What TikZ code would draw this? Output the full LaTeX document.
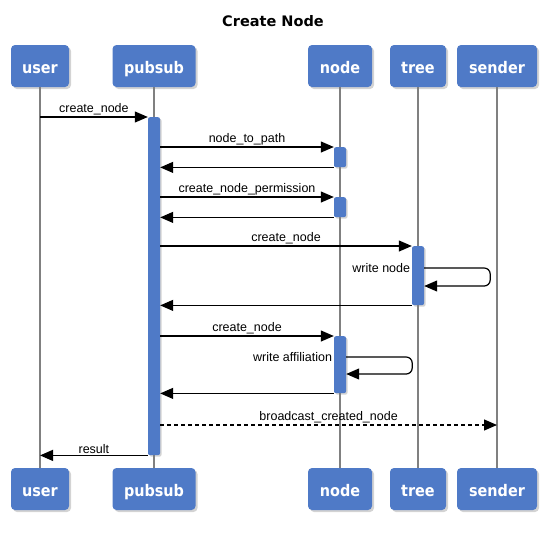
\documentclass[tikz,border=0pt]{standalone}
\usepackage{fontspec}
\setmainfont{DejaVu Sans}
\newfontfamily\lblfont{Liberation Sans}
\newfontfamily\actfont{DejaVu Sans Condensed}
\usetikzlibrary{arrows.meta,shadows}
\definecolor{boxblue}{HTML}{4F7AC7}

\begin{document}
\begin{tikzpicture}[x=1pt, y=-1pt,
  actor/.style={fill=boxblue, rounded corners=4pt, minimum height=42pt, inner sep=0pt,
    text height=14pt, text depth=0pt,
    text=white, font=\actfont\fontsize{16}{18}\selectfont\bfseries,
    drop shadow={shadow xshift=2pt, shadow yshift=-2pt, opacity=0.35}},
  act/.style={fill=boxblue, rounded corners=2pt, minimum width=12pt, inner sep=0pt, anchor=north,
    drop shadow={shadow xshift=1.5pt, shadow yshift=-1.5pt, opacity=0.35}},
  life/.style={draw=gray, line width=1.1pt},
  msg/.style={-{Triangle[length=13pt, width=11pt]}, line width=1.2pt},
  lbl/.style={font=\lblfont\fontsize{12.5}{14}\selectfont, inner sep=1.5pt}]
\useasboundingbox (0,0) rectangle (547,533);

% Title
\node[font=\fontsize{14.5}{17}\selectfont\bfseries] (title) at (273,21) {Create Node};

% Actors, top and bottom
\node[actor, minimum width=58pt] (usert) at (40,66) {user};
\node[actor, minimum width=83pt] (pubsubt) at (154,66) {pubsub};
\node[actor, minimum width=64pt] (nodet) at (340,66) {node};
\node[actor, minimum width=56pt] (treet) at (418,66) {tree};
\node[actor, minimum width=80pt] (sendert) at (497,66) {sender};
\node[actor, minimum width=58pt] (userb) at (40,489) {user};
\node[actor, minimum width=83pt] (pubsubb) at (154,489) {pubsub};
\node[actor, minimum width=64pt] (nodeb) at (340,489) {node};
\node[actor, minimum width=56pt] (treeb) at (418,489) {tree};
\node[actor, minimum width=80pt] (senderb) at (497,489) {sender};

% Lifelines
\draw[life] (usert.south) -- (userb.north);
\draw[life] (pubsubt.south) -- (pubsubb.north);
\draw[life] (nodet.south) -- (nodeb.north);
\draw[life] (treet.south) -- (treeb.north);
\draw[life] (sendert.south) -- (senderb.north);

% Activations
\node[act, minimum height=338pt] (pa) at (154,117) {};
\node[act, minimum height=20pt] (na1) at (340,147) {};
\node[act, minimum height=20pt] (na2) at (340,197) {};
\node[act, minimum height=59pt] (ta) at (418,246) {};
\node[act, minimum height=57pt] (na3) at (340,336) {};

% Calls
\draw[msg] (usert |- pa.north) -- node[lbl, above] {create\_node} (pa.north west);
\draw[msg] (pa.east |- na1.north) -- node[lbl, above] {node\_to\_path} (na1.north west);
\draw[msg] (na1.south west) -- (pa.east |- na1.south);
\draw[msg] (pa.east |- na2.north) -- node[lbl, above] {create\_node\_permission} (na2.north west);
\draw[msg] (na2.south west) -- (pa.east |- na2.south);
\draw[msg] (pa.east |- ta.north) -- node[lbl, above] {create\_node} (ta.north west);
\draw[msg, rounded corners=6pt] (ta.east |- 0,268) -- ++(66,0) -- ++(0,18) -- (ta.east |- 0,286);
\node[lbl, anchor=east] (wnode) at (ta.west |- 0,268) {write node};
\draw[msg] (ta.south west) -- (pa.east |- ta.south);
\draw[msg] (pa.east |- na3.north) -- node[lbl, above] {create\_node} (na3.north west);
\draw[msg, rounded corners=6pt] (na3.east |- 0,357) -- ++(66,0) -- ++(0,17) -- (na3.east |- 0,374);
\node[lbl, anchor=east] (waff) at (na3.west |- 0,357) {write affiliation};
\draw[msg] (na3.south west) -- (pa.east |- na3.south);

% Broadcast and result
\coordinate (bc) at (0,425);
\draw[msg, dash pattern=on 4pt off 3pt] (pa.east |- bc) -- node[lbl, above] {broadcast\_created\_node} (sendert |- bc);
\draw[msg] (pa.south west) -- node[lbl, above] {result} (usert |- pa.south);

\end{tikzpicture}
\end{document}
